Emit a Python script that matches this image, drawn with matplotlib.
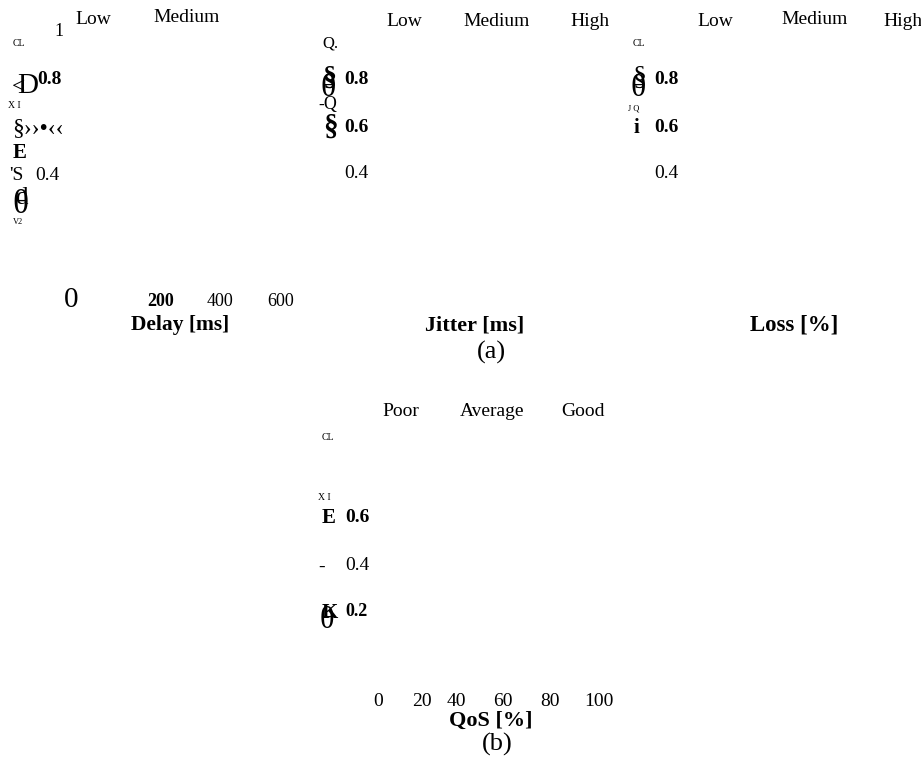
import matplotlib
matplotlib.use("Agg")
import matplotlib.pyplot as plt

W, H = 921, 778
plt.rcParams['font.family'] = ['Liberation Serif', 'DejaVu Serif']

# ---- data (text content) ----
delay_levels = ["Low", "Medium"]
jitter_levels = ["Low", "Medium", "High"]
loss_levels = ["Low", "Medium", "High"]
qos_levels = ["Poor", "Average", "Good"]
delay_ticks = ["0", "200", "400", "600"]
qos_ticks = ["0", "20", "40", "60", "80", "100"]
panel_a_xlabels = ["Delay [ms]", "Jitter [ms]", "Loss [%]"]
panel_b_xlabel = "QoS [%]"
panel_captions = ["(a)", "(b)"]
y_ticks_delay = ["1", "0.8", "0.4"]
y_ticks_jitter = ["0.8", "0.6", "0.4"]
y_ticks_loss = ["0.8", "0.6", "0.4"]
y_ticks_qos = ["0.6", "0.4", "0.2"]

fig = plt.figure(figsize=(W / 100, H / 100), dpi=100)
fig.patch.set_facecolor("white")


def txt(x, y, s, size=14, weight="normal", ha="left", **kw):
    fig.text(x / W, 1 - y / H, s, fontsize=size, fontweight=weight,
             ha=ha, va="center", color="black", **kw)


# ---- panel (a) column 1 : Delay ----
for s, x, y in zip(delay_levels, [75, 153], [20, 18]):
    txt(x, y, s, 14)
txt(54, 32, y_ticks_delay[0], 13)
txt(13, 43, "CL", 7)
txt(12, 88, "<", 17)
txt(17, 86, "D", 21)
txt(37, 79, y_ticks_delay[1], 14, "bold")
txt(8, 105, "X I", 7)
txt(12, 129, "§››•‹‹", 17)
txt(13, 153, "E", 15, "bold")
txt(9, 176, "'S", 14)
txt(35, 176, y_ticks_delay[2], 14)
txt(12, 205, "θ", 24)
txt(15, 198, "d", 18)
txt(13, 222, "V2", 6)

# ---- panel (a) column 2 : Jitter ----
for s, x in zip(jitter_levels, [386, 463, 570]):
    txt(x, 22, s, 14)
txt(322, 43, "Q.", 12)
txt(322, 78, "§", 20, "bold")
txt(320, 88, "θ", 23)
txt(344, 80, y_ticks_jitter[0], 14, "bold")
txt(318, 104, "-Q", 13)
txt(323, 127, "§", 21, "bold")
txt(344, 128, y_ticks_jitter[1], 14, "bold")
txt(344, 173, y_ticks_jitter[2], 14)

# ---- panel (a) column 3 : Loss ----
for s, x, y in zip(loss_levels, [697, 781, 883], [21, 20, 21]):
    txt(x, y, s, 14)
txt(633, 44, "CL", 7)
txt(633, 78, "§", 20)
txt(631, 88, "θ", 23)
txt(654, 80, y_ticks_loss[0], 14, "bold")
txt(628, 108, "J Q", 6)
txt(634, 128, "i", 15, "bold")
txt(654, 128, y_ticks_loss[1], 14, "bold")
txt(654, 173, y_ticks_loss[2], 14)

# ---- panel (a) bottom ----
txt(64, 300, delay_ticks[0], 21)
for s, x, w in zip(delay_ticks[1:], [147, 207, 267], ["bold", "normal", "normal"]):
    txt(x, 302, s, 13, w)
for s, x, fs in zip(panel_a_xlabels, [131, 425, 750], [15.5, 16, 16.5]):
    txt(x, 325, s, fs, "bold")
txt(491, 352, panel_captions[0], 19, ha="center")

# ---- panel (b) : QoS ----
for s, x in zip(qos_levels, [382, 460, 561]):
    txt(x, 412, s, 14)
txt(322, 437, "CL", 7)
txt(318, 498, "X I", 7)
txt(322, 518, "E", 15, "bold")
txt(345, 518, y_ticks_qos[0], 14, "bold")
txt(318, 567, "-", 14)
txt(345, 566, y_ticks_qos[1], 14)
txt(322, 613, "K", 15, "bold")
txt(320, 621, "θ", 22)
txt(345, 612, y_ticks_qos[2], 13, "bold")
for s, x in zip(qos_ticks, [373, 412, 447, 493, 540, 584]):
    txt(x, 702, s, 14)
txt(491, 721, panel_b_xlabel, 16, "bold", ha="center")
txt(497, 744, panel_captions[1], 19, ha="center")

fig.savefig("out.png", dpi=100, facecolor="white")
